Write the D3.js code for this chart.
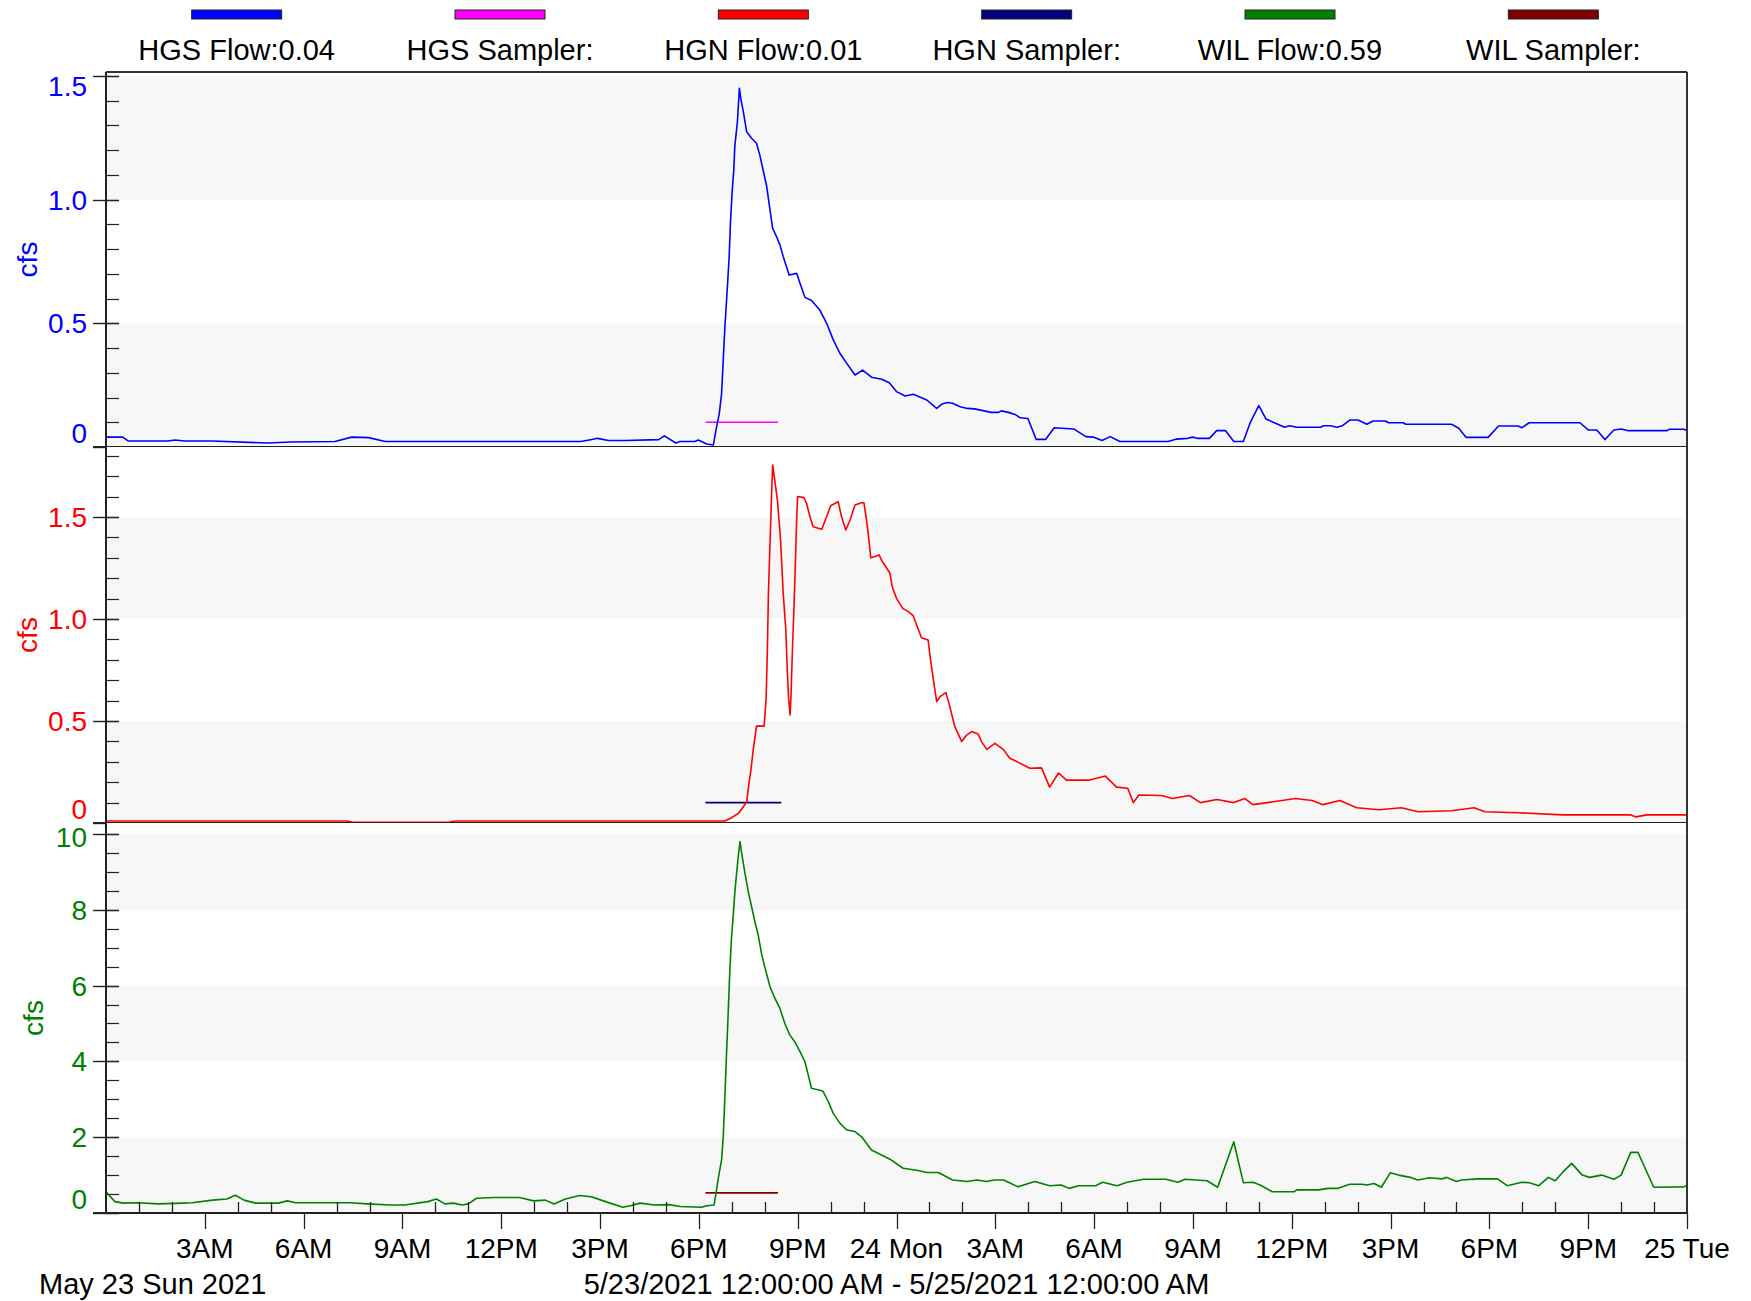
<!DOCTYPE html>
<html>
<head>
<meta charset="utf-8">
<script src="https://cdn.jsdelivr.net/npm/d3@7"></script>
<style>
  body { margin: 0; background: #fff; }
  text { font-family: "Liberation Sans", Arial, sans-serif; }
</style>
</head>
<body>
<svg id="chart"></svg>
<script>
// legend
var legendNames = ["HGS Flow:0.04", "HGS Sampler:", "HGN Flow:0.01", "HGN Sampler:", "WIL Flow:0.59", "WIL Sampler:"];
var legendColors = ["#0000ff", "#ff00ff", "#ff0000", "#000080", "#008000", "#800000"];

// x axis, hours from 5/23/2021 12:00 AM
var xTickHours = [3, 6, 9, 12, 15, 18, 21, 24, 27, 30, 33, 36, 39, 42, 45, 48];
var xTickLabels = ["3AM", "6AM", "9AM", "12PM", "3PM", "6PM", "9PM", "24 Mon", "3AM", "6AM", "9AM", "12PM", "3PM", "6PM", "9PM", "25 Tue"];
var dateLabel = "May 23 Sun 2021";
var rangeLabel = "5/23/2021 12:00:00 AM - 5/25/2021 12:00:00 AM";

// y ticks per panel
var hgsTicks = [0, 0.5, 1.0, 1.5];
var hgsTickLabels = ["0", "0.5", "1.0", "1.5"];
var hgnTicks = [0, 0.5, 1.0, 1.5];
var hgnTickLabels = ["0", "0.5", "1.0", "1.5"];
var wilTicks = [0, 2, 4, 6, 8, 10];
var wilTickLabels = ["0", "2", "4", "6", "8", "10"];

// series: [hour, cfs]
var hgsFlow = [[0,0.04],[0.51,0.04],[0.68,0.024],[1.87,0.024],[2.1,0.028],[2.38,0.024],[3.22,0.024],[4.92,0.016],[5.6,0.02],[6.95,0.022],[7.46,0.04],[7.97,0.038],[8.48,0.022],[14.41,0.022],[14.75,0.03],[14.92,0.035],[15.26,0.026],[15.77,0.026],[16.78,0.03],[16.95,0.045],[17.3,0.016],[17.43,0.022],[17.88,0.022],[17.98,0.028],[18.24,0.012],[18.44,0.008],[18.52,0.069],[18.62,0.136],[18.69,0.217],[18.74,0.352],[18.79,0.486],[18.86,0.635],[18.92,0.77],[18.96,0.911],[19.01,1.032],[19.06,1.12],[19.09,1.214],[19.17,1.315],[19.23,1.45],[19.28,1.403],[19.35,1.356],[19.4,1.315],[19.45,1.275],[19.6,1.248],[19.75,1.228],[19.85,1.18],[19.95,1.12],[20.06,1.053],[20.16,0.958],[20.24,0.884],[20.36,0.85],[20.46,0.817],[20.56,0.77],[20.66,0.729],[20.74,0.695],[20.97,0.702],[21.07,0.662],[21.22,0.605],[21.42,0.592],[21.67,0.554],[21.88,0.5],[22.08,0.433],[22.28,0.379],[22.49,0.338],[22.74,0.291],[22.97,0.311],[23.24,0.282],[23.55,0.274],[23.78,0.26],[24.0,0.224],[24.26,0.206],[24.51,0.213],[24.92,0.19],[25.22,0.156],[25.4,0.175],[25.56,0.18],[25.7,0.177],[25.93,0.163],[26.15,0.156],[26.37,0.154],[26.66,0.146],[26.88,0.14],[27.1,0.14],[27.18,0.146],[27.4,0.14],[27.62,0.13],[27.76,0.118],[27.99,0.115],[28.24,0.031],[28.53,0.031],[28.79,0.078],[29.38,0.073],[29.75,0.042],[29.97,0.04],[30.24,0.026],[30.49,0.042],[30.78,0.022],[32.25,0.022],[32.5,0.032],[32.84,0.035],[32.99,0.04],[33.13,0.035],[33.5,0.035],[33.72,0.066],[33.99,0.066],[34.24,0.022],[34.53,0.022],[34.75,0.102],[35.0,0.167],[35.22,0.113],[35.63,0.089],[35.78,0.08],[35.93,0.086],[36.15,0.08],[36.88,0.08],[36.96,0.086],[37.18,0.086],[37.37,0.08],[37.54,0.086],[37.76,0.109],[38.01,0.109],[38.28,0.092],[38.47,0.105],[38.84,0.105],[38.94,0.098],[39.38,0.098],[39.46,0.092],[40.85,0.092],[41.07,0.076],[41.29,0.039],[41.96,0.039],[42.28,0.085],[42.87,0.085],[42.99,0.078],[43.21,0.098],[44.75,0.098],[45.0,0.069],[45.26,0.069],[45.51,0.03],[45.78,0.069],[46.0,0.073],[46.22,0.066],[47.4,0.066],[47.47,0.072],[47.91,0.072],[48,0.066]];

var hgnFlow = [[0,0.01],[7.3,0.01],[7.5,0.004],[10.4,0.004],[10.6,0.01],[18.79,0.01],[18.99,0.026],[19.2,0.047],[19.35,0.08],[19.45,0.104],[19.52,0.194],[19.58,0.26],[19.65,0.358],[19.75,0.475],[19.98,0.475],[20.04,0.603],[20.08,0.848],[20.11,1.118],[20.16,1.371],[20.21,1.624],[20.24,1.755],[20.29,1.698],[20.39,1.575],[20.48,1.387],[20.56,1.126],[20.64,0.946],[20.68,0.766],[20.72,0.619],[20.77,0.529],[20.8,0.636],[20.84,0.848],[20.89,1.069],[20.93,1.273],[20.97,1.494],[21.0,1.6],[21.19,1.595],[21.27,1.567],[21.37,1.502],[21.47,1.452],[21.73,1.44],[21.86,1.494],[22.0,1.555],[22.23,1.575],[22.33,1.502],[22.46,1.436],[22.59,1.485],[22.74,1.559],[22.94,1.57],[23.01,1.57],[23.09,1.485],[23.14,1.42],[23.22,1.3],[23.32,1.305],[23.47,1.314],[23.57,1.281],[23.67,1.257],[23.8,1.224],[23.87,1.158],[24.0,1.101],[24.19,1.052],[24.36,1.036],[24.51,1.015],[24.63,0.962],[24.76,0.908],[24.96,0.897],[25.02,0.815],[25.12,0.701],[25.22,0.595],[25.32,0.619],[25.5,0.639],[25.62,0.57],[25.77,0.472],[25.98,0.399],[26.13,0.431],[26.28,0.448],[26.48,0.436],[26.58,0.399],[26.74,0.361],[26.99,0.39],[27.24,0.361],[27.44,0.317],[27.65,0.301],[28.05,0.268],[28.4,0.27],[28.65,0.176],[28.92,0.245],[29.16,0.21],[29.84,0.21],[30.34,0.23],[30.68,0.176],[31.02,0.17],[31.19,0.1],[31.36,0.137],[32.04,0.135],[32.38,0.12],[32.89,0.135],[33.23,0.1],[33.73,0.115],[34.24,0.1],[34.58,0.12],[34.82,0.09],[35.26,0.1],[36.11,0.12],[36.62,0.11],[36.95,0.09],[37.46,0.11],[37.97,0.075],[38.65,0.065],[39.33,0.075],[39.84,0.055],[40.85,0.06],[41.53,0.075],[41.87,0.055],[42.89,0.05],[44.24,0.04],[46.28,0.04],[46.45,0.03],[46.78,0.04],[48,0.04]];

var wilFlow = [[0,0.56],[0.27,0.3],[0.53,0.26],[0.97,0.27],[1.58,0.24],[2.36,0.26],[2.62,0.27],[3.23,0.34],[3.67,0.37],[3.93,0.47],[4.19,0.34],[4.54,0.26],[5.24,0.26],[5.5,0.32],[5.76,0.27],[7.41,0.27],[7.94,0.24],[8.63,0.21],[9.07,0.21],[9.77,0.3],[10.03,0.37],[10.29,0.24],[10.55,0.26],[10.81,0.21],[11.0,0.24],[11.25,0.39],[11.77,0.41],[12.55,0.41],[12.99,0.32],[13.34,0.34],[13.6,0.24],[13.95,0.37],[14.38,0.46],[14.73,0.43],[15.17,0.3],[15.69,0.15],[15.95,0.2],[16.21,0.26],[16.65,0.21],[17.09,0.22],[17.43,0.17],[18.08,0.15],[18.24,0.19],[18.46,0.21],[18.52,0.52],[18.59,0.92],[18.69,1.4],[18.74,2.01],[18.79,3.07],[18.84,4.21],[18.89,5.27],[18.94,6.41],[18.99,7.25],[19.04,7.82],[19.09,8.44],[19.15,9.0],[19.2,9.45],[19.25,9.8],[19.3,9.49],[19.4,8.96],[19.5,8.48],[19.6,8.08],[19.7,7.69],[19.8,7.34],[19.91,6.81],[20.01,6.46],[20.16,5.97],[20.31,5.66],[20.46,5.4],[20.61,5.0],[20.76,4.7],[20.91,4.52],[21.07,4.26],[21.22,3.99],[21.32,3.64],[21.42,3.29],[21.76,3.22],[21.93,2.94],[22.08,2.63],[22.28,2.37],[22.49,2.19],[22.74,2.15],[22.94,2.01],[23.24,1.66],[23.5,1.55],[23.8,1.42],[24.2,1.18],[24.61,1.13],[24.92,1.07],[25.27,1.07],[25.7,0.87],[26.15,0.83],[26.44,0.87],[26.74,0.83],[26.96,0.87],[27.25,0.87],[27.69,0.69],[28.2,0.83],[28.65,0.72],[29.0,0.74],[29.24,0.65],[29.53,0.72],[30.04,0.72],[30.26,0.81],[30.7,0.72],[31.0,0.81],[31.5,0.89],[32.18,0.89],[32.54,0.81],[32.76,0.89],[33.43,0.85],[33.75,0.68],[34.24,1.88],[34.53,0.8],[34.82,0.81],[35.04,0.74],[35.41,0.56],[36.07,0.56],[36.15,0.61],[36.81,0.61],[37.1,0.65],[37.4,0.65],[37.54,0.69],[37.76,0.76],[38.13,0.76],[38.28,0.74],[38.5,0.78],[38.72,0.68],[38.99,1.06],[39.24,1.0],[39.6,0.94],[39.82,0.87],[40.19,0.93],[40.56,0.9],[40.7,0.94],[41.0,0.83],[41.15,0.87],[41.66,0.9],[42.25,0.9],[42.54,0.72],[42.99,0.81],[43.21,0.8],[43.5,0.72],[43.79,0.94],[44.0,0.85],[44.24,1.09],[44.5,1.31],[44.82,1.0],[45.04,0.94],[45.41,1.0],[45.78,0.89],[46.0,1.0],[46.29,1.6],[46.51,1.6],[46.99,0.68],[47.91,0.69],[48,0.74]];

var hgsSampler = [[18.2,0.1],[20.4,0.1]];
var hgnSampler = [[18.2,0.1],[20.5,0.1]];
var wilSampler = [[18.2,0.53],[20.4,0.53]];

var width = 1751, height = 1301;
var left = 106, right = 1687;

var svg = d3.select("#chart")
    .attr("width", width)
    .attr("height", height);

svg.append("rect").attr("width", width).attr("height", height).attr("fill", "#fff");

var x = d3.scaleLinear().domain([0, 48]).range([left, right]);

// one entry per stacked panel
var panels = [
    {top: 72, bottom: 447, max: 1.516, step: 0.5, minor: 0.1, ticks: hgsTicks, labels: hgsTickLabels,
     color: "#0000ff", flow: hgsFlow, sampler: hgsSampler, samplerColor: legendColors[1], cfsX: 37},
    {top: 447, bottom: 823, max: 1.843, step: 0.5, minor: 0.1, ticks: hgnTicks, labels: hgnTickLabels,
     color: "#ff0000", flow: hgnFlow, sampler: hgnSampler, samplerColor: legendColors[3], cfsX: 37},
    {top: 823, bottom: 1213, max: 10.29, step: 2, minor: 0.5, ticks: wilTicks, labels: wilTickLabels,
     color: "#008000", flow: wilFlow, sampler: wilSampler, samplerColor: legendColors[5], cfsX: 43}
];

panels.forEach(function(p) {
    var y = d3.scaleLinear().domain([0, p.max]).range([p.bottom, p.top]);
    var g = svg.append("g");

    //alternating bands, gray from zero upward
    var bands = d3.range(0, p.max, p.step);
    g.selectAll("rect.band")
        .data(bands)
        .enter()
        .append("rect")
        .attr("x", left)
        .attr("width", right - left)
        .attr("y", function(d) { return y(Math.min(d + p.step, p.max)); })
        .attr("height", function(d) { return y(d) - y(Math.min(d + p.step, p.max)); })
        .attr("fill", function(d, i) { return i % 2 == 0 ? "#f7f7f7" : "#ffffff"; });

    // minor ticks
    var minors = d3.range(0, p.max + 1e-9, p.minor);
    g.selectAll("line.minor")
        .data(minors)
        .enter()
        .append("line")
        .attr("x1", left).attr("x2", left + 13)
        .attr("y1", function(d) { return Math.round(y(d)) + 0.5; })
        .attr("y2", function(d) { return Math.round(y(d)) + 0.5; })
        .attr("stroke", "#222")
        .attr("stroke-width", 1.2);

    // major ticks
    g.selectAll("line.major")
        .data(p.ticks)
        .enter()
        .append("line")
        .attr("x1", left - 13).attr("x2", left + 13)
        .attr("y1", function(d) { return Math.round(y(d)) + 0.5; })
        .attr("y2", function(d) { return Math.round(y(d)) + 0.5; })
        .attr("stroke", "#222")
        .attr("stroke-width", 1.4);

    // tick labels kept inside the panel
    g.selectAll("text.tick")
        .data(p.ticks)
        .enter()
        .append("text")
        .text(function(d, i) { return p.labels[i]; })
        .attr("x", 87)
        .attr("y", function(d) {
            var c = Math.max(p.top + 14, Math.min(p.bottom - 14, y(d)));
            return c + 10;
        })
        .attr("text-anchor", "end")
        .attr("fill", p.color)
        .style("font-size", "28px");

    g.append("text")
        .text("cfs")
        .attr("transform", "translate(" + p.cfsX + "," + ((p.top + p.bottom) / 2) + ") rotate(-90)")
        .attr("text-anchor", "middle")
        .attr("fill", p.color)
        .style("font-size", "28px");

    var line = d3.line()
        .x(function(d) { return x(d[0]); })
        .y(function(d) { return y(d[1]); });

    g.append("path")
        .datum(p.sampler)
        .attr("d", line)
        .attr("fill", "none")
        .attr("stroke", p.samplerColor)
        .attr("stroke-width", 1.6);

    g.append("path")
        .datum(p.flow)
        .attr("d", line)
        .attr("fill", "none")
        .attr("stroke", p.color)
        .attr("stroke-width", 1.6)
        .attr("stroke-linejoin", "round");

    // panel bottom line
    g.append("line")
        .attr("x1", left - 13).attr("x2", right)
        .attr("y1", p.bottom).attr("y2", p.bottom)
        .attr("stroke", "#222")
        .attr("stroke-width", 2);
});

// frame
svg.append("line").attr("x1", left).attr("x2", right).attr("y1", 72).attr("y2", 72)
    .attr("stroke", "#333").attr("stroke-width", 2);
svg.append("line").attr("x1", left).attr("x2", left).attr("y1", 72).attr("y2", 1213)
    .attr("stroke", "#222").attr("stroke-width", 2);
svg.append("line").attr("x1", right).attr("x2", right).attr("y1", 72).attr("y2", 1213)
    .attr("stroke", "#333").attr("stroke-width", 2);

// x axis ticks: hourly minor up, 3-hourly major down
var hours = d3.range(1, 48);
svg.selectAll("line.hour")
    .data(hours.filter(function(h) { return h % 3 != 0; }))
    .enter()
    .append("line")
    .attr("x1", function(d) { return Math.round(x(d)) + 0.5; })
    .attr("x2", function(d) { return Math.round(x(d)) + 0.5; })
    .attr("y1", 1213).attr("y2", 1202)
    .attr("stroke", "#222")
    .attr("stroke-width", 1.3);

svg.selectAll("line.xmajor")
    .data(xTickHours)
    .enter()
    .append("line")
    .attr("x1", function(d) { return Math.round(x(d)) + 0.5; })
    .attr("x2", function(d) { return Math.round(x(d)) + 0.5; })
    .attr("y1", 1213).attr("y2", 1229)
    .attr("stroke", "#222")
    .attr("stroke-width", 1.3);

svg.selectAll("text.xlabel")
    .data(xTickHours)
    .enter()
    .append("text")
    .text(function(d, i) { return xTickLabels[i]; })
    .attr("x", function(d) { return x(d); })
    .attr("y", 1258)
    .attr("text-anchor", "middle")
    .attr("fill", "#000")
    .style("font-size", "28px");

svg.append("text")
    .text(dateLabel)
    .attr("x", 39)
    .attr("y", 1294)
    .attr("fill", "#000")
    .style("font-size", "29px");

svg.append("text")
    .text(rangeLabel)
    .attr("x", (left + right) / 2)
    .attr("y", 1294)
    .attr("text-anchor", "middle")
    .attr("fill", "#000")
    .style("font-size", "29px");

//legend
var lx = d3.scaleBand().domain(legendNames).range([105, 1685]);

svg.selectAll("rect.legend")
    .data(legendNames)
    .enter()
    .append("rect")
    .attr("x", function(d) { return lx(d) + lx.bandwidth() / 2 - 45; })
    .attr("y", 10)
    .attr("width", 90)
    .attr("height", 9)
    .attr("fill", function(d, i) { return legendColors[i]; })
    .attr("stroke", "#222")
    .attr("stroke-width", 1);

svg.selectAll("text.legend")
    .data(legendNames)
    .enter()
    .append("text")
    .text(function(d) { return d; })
    .attr("x", function(d) { return lx(d) + lx.bandwidth() / 2; })
    .attr("y", 60)
    .attr("text-anchor", "middle")
    .attr("fill", "#000")
    .style("font-size", "29px");
</script>
</body>
</html>
